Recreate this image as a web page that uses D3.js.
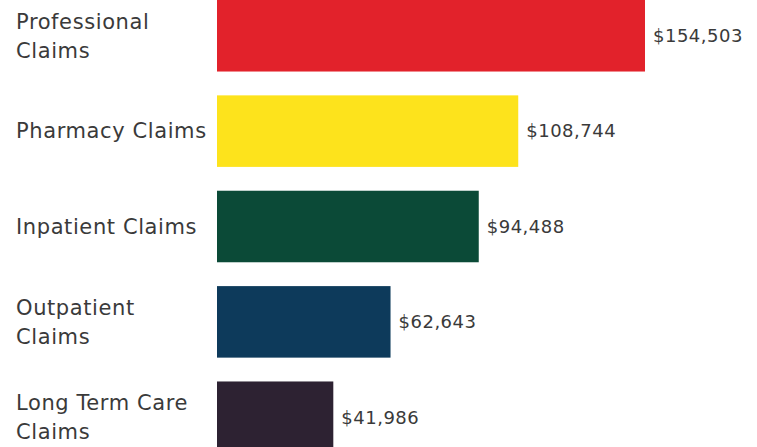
<!DOCTYPE html>
<html>
<head>
<meta charset="utf-8">
<script src="https://cdn.jsdelivr.net/npm/d3@7"></script>
<style>
  html, body { margin: 0; padding: 0; background: #fff; }
  svg { display: block; }
</style>
</head>
<body>
<svg id="chart" width="757" height="447"></svg>
<script>
// Claim categories (each entry is the lines of its label)
const categories = [
  ["Professional", "Claims"],
  ["Pharmacy Claims"],
  ["Inpatient Claims"],
  ["Outpatient", "Claims"],
  ["Long Term Care", "Claims"]
];
// Paid amounts in dollars
const amounts = [154503, 108744, 94488, 62643, 41986];
const barColors = ["#e2222b", "#fde31c", "#0b4a37", "#0d3a5b", "#2d2232"];

const svg = d3.select("#chart");
const keys = categories.map(c => c.join(" "));

const y = d3.scaleBand()
  .domain(keys)
  .range([0, 453])
  .paddingInner(0.25)
  .paddingOuter(0);

const x = d3.scaleLinear()
  .domain([0, d3.max(amounts)])
  .range([217, 645]);

const fmt = d3.format("$,");
const font = "'DejaVu Sans', sans-serif";
const textColor = "#3a3a3a";

const rows = svg.selectAll("g.row")
  .data(keys.map((k, i) => ({ key: k, lines: categories[i], value: amounts[i], color: barColors[i] })))
  .join("g")
  .attr("class", "row");

rows.append("rect")
  .attr("x", x(0))
  .attr("y", d => y(d.key))
  .attr("width", d => x(d.value) - x(0))
  .attr("height", y.bandwidth())
  .attr("fill", d => d.color);

rows.append("text")
  .attr("x", d => x(d.value) + 8)
  .attr("y", d => y(d.key) + y.bandwidth() / 2)
  .attr("dy", "0.35em")
  .attr("font-family", font)
  .attr("font-size", 18)
  .attr("letter-spacing", "0.5px")
  .attr("fill", textColor)
  .text(d => fmt(d.value));

const lineGap = 29;
rows.append("text")
  .attr("font-family", font)
  .attr("font-size", 21)
  .attr("letter-spacing", "0.6px")
  .attr("fill", textColor)
  .each(function (d) {
    const t = d3.select(this);
    const mid = y(d.key) + y.bandwidth() / 2;
    const n = d.lines.length;
    d.lines.forEach((ln, j) => {
      t.append("tspan")
        .attr("x", 16)
        .attr("y", mid + (j - (n - 1) / 2) * lineGap)
        .attr("dy", "0.35em")
        .text(ln);
    });
  });
</script>
</body>
</html>
